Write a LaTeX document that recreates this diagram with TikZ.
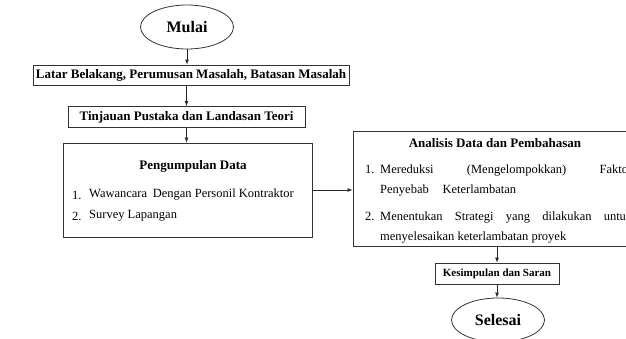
\documentclass[tikz,border=0pt]{standalone}
\usepackage{fontspec}
\setmainfont{Liberation Serif}
\usetikzlibrary{arrows,shapes.geometric}

\tikzset{
  box/.style   = {draw=black!80, line width=0.8pt, rectangle, inner sep=0pt},
  oval/.style  = {draw=black!80, line width=0.8pt, ellipse, inner sep=0pt,
                  minimum width=93pt, minimum height=44pt,
                  font=\fontsize{16}{18}\selectfont\bfseries},
  title/.style = {font=\fontsize{13}{15}\selectfont\bfseries},
  item/.style  = {inner sep=0pt, font=\fontsize{12.5}{20}\selectfont},
  flow/.style  = {-latex, line width=0.7pt, black!85}
}
\newcommand{\itemno}[1]{\leavevmode\llap{\makebox[15pt][l]{#1}}}

\begin{document}
\begin{tikzpicture}[x=1pt, y=-1pt]
\path[use as bounding box, clip] (0,0) rectangle (626,339);

% left column
\node[oval] (mulai) at (187,27) {Mulai};
\node[box, title, minimum width=316pt, minimum height=20pt] (latar) at (191,75)
  {Latar Belakang, Perumusan Masalah, Batasan Masalah};
\node[box, title, minimum width=237pt, minimum height=21pt] (tinjau) at (186.5,117)
  {Tinjauan Pustaka dan Landasan Teori};
\node[box, minimum width=249pt, minimum height=94pt] (kumpul) at (187.5,190) {};
\node[title] (kumpulT) at (193,166) {Pengumpulan Data};
\node[item, anchor=west] (k1n) at (72,195) {1.};
\node[item, anchor=west] (k1) at (89,195) {Wawancara\hspace{0.2em} Dengan Personil Kontraktor};
\node[item, anchor=west] (k2n) at (72,216) {2.};
\node[item, anchor=west] (k2) at (89,216) {Survey Lapangan};

% right column
\node[box, minimum width=284pt, minimum height=115pt] (analisis) at (495,188.5) {};
\node[title] (analisisT) at (495,143) {Analisis Data dan Pembahasan};
\node[item, anchor=north west, text width=252pt, align=justify] (a1) at (380,164.5)
  {\itemno{1.}Mereduksi (Mengelompokkan) Faktor\linebreak Penyebab\hspace{1.1em}Keterlambatan};
\node[item, anchor=north west, text width=252pt, align=justify] (a2) at (380,211.5)
  {\itemno{2.}Menentukan Strategi yang dilakukan untuk\linebreak menyelesaikan keterlambatan proyek};
\node[box, minimum width=124pt, minimum height=21pt,
      font=\fontsize{11}{13}\selectfont\bfseries] (simpul) at (497,273.5)
  {Kesimpulan dan Saran};
\node[oval] (selesai) at (498,320) {Selesai};

% arrows
\draw[flow] (mulai) -- (mulai |- latar.north);
\draw[flow] (latar.south -| tinjau.north) -- (tinjau.north);
\draw[flow] (tinjau) -- (tinjau |- kumpul.north);
\draw[flow] (kumpul.east) -- (kumpul.east -| analisis.west);
\draw[flow] (analisis.south -| simpul.north) -- (simpul.north);
\draw[flow] (simpul) -- (simpul |- selesai.north);

\end{tikzpicture}
\end{document}
